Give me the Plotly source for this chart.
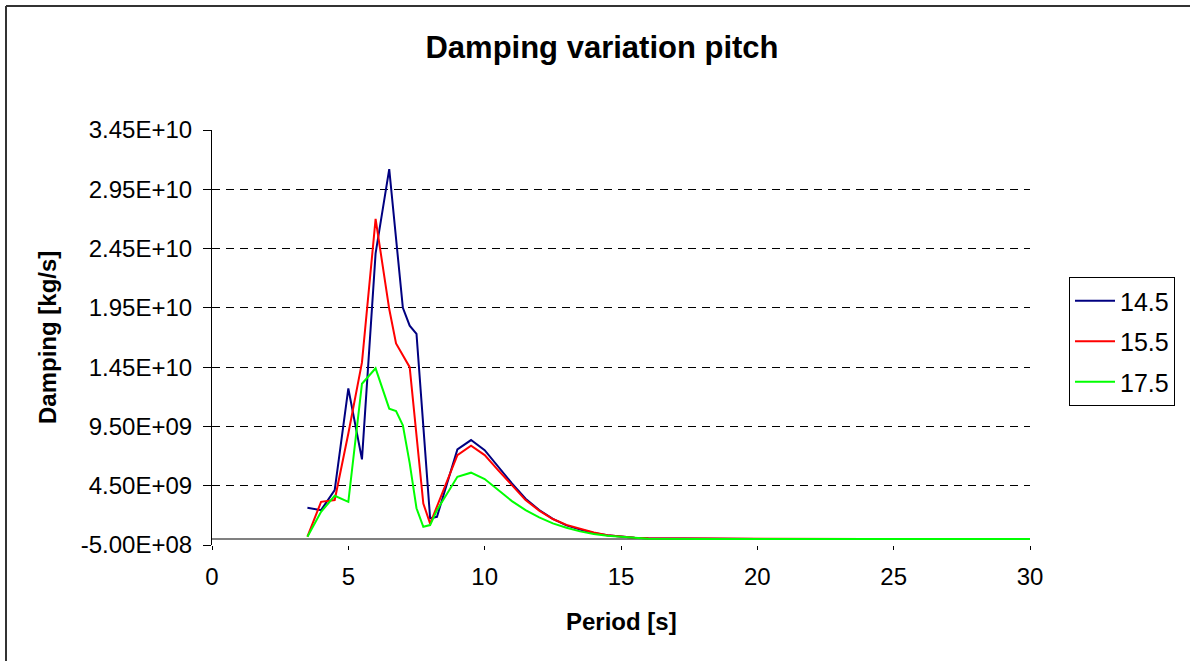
import plotly.graph_objects as go

# ---- data ----
x_145 = [3.5, 4, 4.5, 5, 5.5, 6, 6.5, 7, 7.25, 7.5, 8, 8.25, 9, 9.5, 10, 10.5, 11, 11.5, 12,
         12.5, 13, 13.5, 14, 14.5, 15, 15.5, 16, 17, 18, 20, 22, 24, 26, 28, 30]
y_145 = [2.64e9, 2.44e9, 4.13e9, 1.27e10, 6.72e9, 2.41e10, 3.12e10, 1.95e10, 1.80e10, 1.73e10,
         1.75e9, 1.88e9, 7.56e9, 8.35e9, 7.5e9, 6.1e9, 4.7e9, 3.4e9, 2.45e9, 1.7e9, 1.15e9,
         0.8e9, 0.52e9, 0.32e9, 0.2e9, 0.12e9, 0.07e9, 0.04e9, 0.02e9, 0.01e9, 0, 0, 0, 0, 0]

x_155 = [3.5, 4, 4.5, 5, 5.5, 6, 6.5, 6.75, 7.25, 7.75, 8, 8.25, 9, 9.5, 10, 10.5, 11, 11.5, 12,
         12.5, 13, 13.5, 14, 14.5, 15, 15.5, 16, 17, 17.5, 18, 20, 22, 24, 26, 28, 30]
y_155 = [0.2e9, 3.14e9, 3.29e9, 8.9e9, 1.49e10, 2.70e10, 1.94e10, 1.65e10, 1.45e10, 3.0e9,
         1.3e9, 2.72e9, 7.08e9, 7.87e9, 7.08e9, 5.8e9, 4.55e9, 3.29e9, 2.4e9, 1.69e9, 1.2e9,
         0.85e9, 0.55e9, 0.32e9, 0.2e9, 0.12e9, 0.07e9, 0.06e9, 0.05e9, 0.01e9, 0, 0, 0, 0, 0, 0]

x_175 = [3.5, 4, 4.5, 5, 5.5, 6, 6.5, 6.75, 7, 7.25, 7.5, 7.75, 8, 8.25, 9, 9.5, 10, 10.5, 11,
         11.5, 12, 12.5, 13, 13.5, 14, 14.5, 15, 15.5, 16, 18, 20, 22, 24, 26, 28, 30]
y_175 = [0.2e9, 2.3e9, 3.65e9, 3.14e9, 1.31e10, 1.44e10, 1.10e10, 1.08e10, 9.6e9, 6.4e9, 2.6e9,
         1.04e9, 1.18e9, 2.44e9, 5.25e9, 5.6e9, 5.06e9, 4.13e9, 3.2e9, 2.44e9, 1.83e9, 1.32e9,
         0.95e9, 0.65e9, 0.42e9, 0.28e9, 0.18e9, 0.08e9, 0.03e9, 0, 0, 0, 0, 0, 0, 0]

series_names = ["14.5", "15.5", "17.5"]
series_colors = ["#000080", "#FF0000", "#00FF00"]

y_tick_vals = [-5.0e8, 4.5e9, 9.5e9, 1.45e10, 1.95e10, 2.45e10, 2.95e10, 3.45e10]
y_tick_text = ["-5.00E+08", "4.50E+09", "9.50E+09", "1.45E+10", "1.95E+10",
               "2.45E+10", "2.95E+10", "3.45E+10"]
x_tick_vals = [0, 5, 10, 15, 20, 25, 30]

FONT = "Liberation Sans, Arial, sans-serif"

fig = go.Figure()
for i, (xs, ys) in enumerate([(x_145, y_145), (x_155, y_155), (x_175, y_175)]):
    fig.add_trace(go.Scatter(
        x=xs, y=ys, mode="lines", name=series_names[i],
        line=dict(color=series_colors[i], width=2),
        legendgroup=series_names[i],
    ))

W, H = 1190, 661
L, R, T, B = 212, 1030, 130, 545   # page pixel coordinates of plot area
pw, ph = R - L, B - T

def px_x(px):
    return (px - L) / pw

def px_y(py):
    return (B - py) / ph

frame_line = dict(color="#333333", width=2)

fig.update_layout(
    width=W, height=H,
    margin=dict(l=L, r=W - R, t=T, b=H - B),
    paper_bgcolor="white", plot_bgcolor="white",
    font=dict(family=FONT, color="black", size=24),
    title=dict(text="<b>Damping variation pitch</b>", x=px_x(602), xref="paper",
               xanchor="center",
               y=1 - 47 / H, yanchor="middle",
               font=dict(family=FONT, size=31, color="black")),
    showlegend=True,
    legend=dict(x=px_x(1069), y=px_y(277), xanchor="left", yanchor="top",
                bordercolor="black", borderwidth=1, bgcolor="white",
                font=dict(family=FONT, size=25, color="black"),
                tracegroupgap=5, itemwidth=40,
                entrywidth=108, entrywidthmode="pixels"),
    xaxis=dict(range=[0, 30], tickvals=x_tick_vals, showgrid=False, zeroline=False,
               showline=False, ticks="outside", ticklen=4, tickcolor="black",
               ticklabelstandoff=6,
               tickfont=dict(family=FONT, size=24, color="black")),
    yaxis=dict(range=[-5.0e8, 3.45e10], tickvals=y_tick_vals, ticktext=y_tick_text,
               showgrid=True, gridcolor="black", gridwidth=1, griddash="8px,6px",
               zeroline=True, zerolinecolor="#808080", zerolinewidth=2,
               showline=True, linecolor="black", linewidth=1,
               ticks="outside", ticklen=8, tickcolor="black",
               ticklabelstandoff=6,
               tickfont=dict(family=FONT, size=24, color="black")),
    annotations=[
        dict(text="<b>Damping [kg/s]</b>", xref="paper", yref="paper",
             x=px_x(47), y=px_y(338), xanchor="center", yanchor="middle",
             textangle=-90, showarrow=False,
             font=dict(family=FONT, size=24, color="black")),
        dict(text="<b>Period [s]</b>", xref="paper", yref="paper",
             x=px_x(621), y=px_y(621), xanchor="center", yanchor="middle",
             showarrow=False, font=dict(family=FONT, size=24, color="black")),
    ],
    shapes=[
        dict(type="line", xref="paper", yref="paper",
             x0=px_x(6), y0=px_y(6), x1=px_x(1200), y1=px_y(6),
             line=frame_line, layer="below"),
        dict(type="line", xref="paper", yref="paper",
             x0=px_x(6), y0=px_y(6), x1=px_x(6), y1=px_y(670),
             line=frame_line, layer="below"),
    ],
)

fig.write_html("out.html",
               config={"displayModeBar": False},
               post_script="document.body.style.margin='0';"
                           "document.body.style.overflow='hidden';")
